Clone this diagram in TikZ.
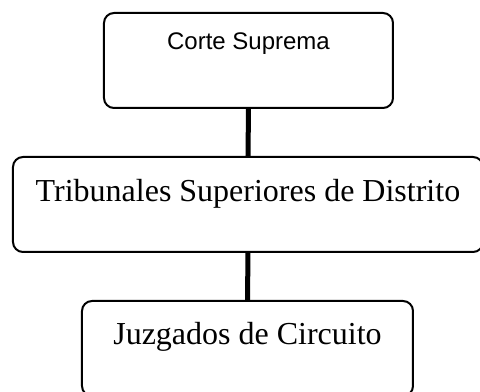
\documentclass[tikz,border=0pt]{standalone}
\usepackage{fontspec}
\setmainfont{Liberation Serif}
\setsansfont{Liberation Sans}
\usetikzlibrary{calc}

\tikzset{
  box/.style={draw, line width=1.5pt, rounded corners=7.5pt, inner sep=0pt, align=center},
  link/.style={line width=3.75pt}
}

\begin{document}
\begin{tikzpicture}[x=0.75pt, y=-0.75pt]
		 % Fix the page size
		\useasboundingbox (0,0) rectangle (480,392);

		 % Define the boxes
		\node[box, minimum width=216.75pt, text height=27.75pt, text depth=43.5pt,
		      font=\sffamily\fontsize{18}{21}\selectfont] (corte) at (248.5,60.5) {Corte Suprema};
		\node[box, minimum width=352.5pt, text height=33.75pt, text depth=37.5pt,
		      font=\fontsize{24}{28}\selectfont] (tribunales) at (248,204.5) {Tribunales Superiores de Distrito};
		\node[box, minimum width=248.25pt, text height=33pt, text depth=38.25pt,
		      font=\fontsize{24}{28}\selectfont] (juzgados) at (247.5,348.5) {Juzgados de Circuito};

         % Draw the lines
        \draw[link] (corte.south) -- (tribunales.north);
        \draw[link] (tribunales.south) -- (juzgados.north);
      \end{tikzpicture}
\end{document}
